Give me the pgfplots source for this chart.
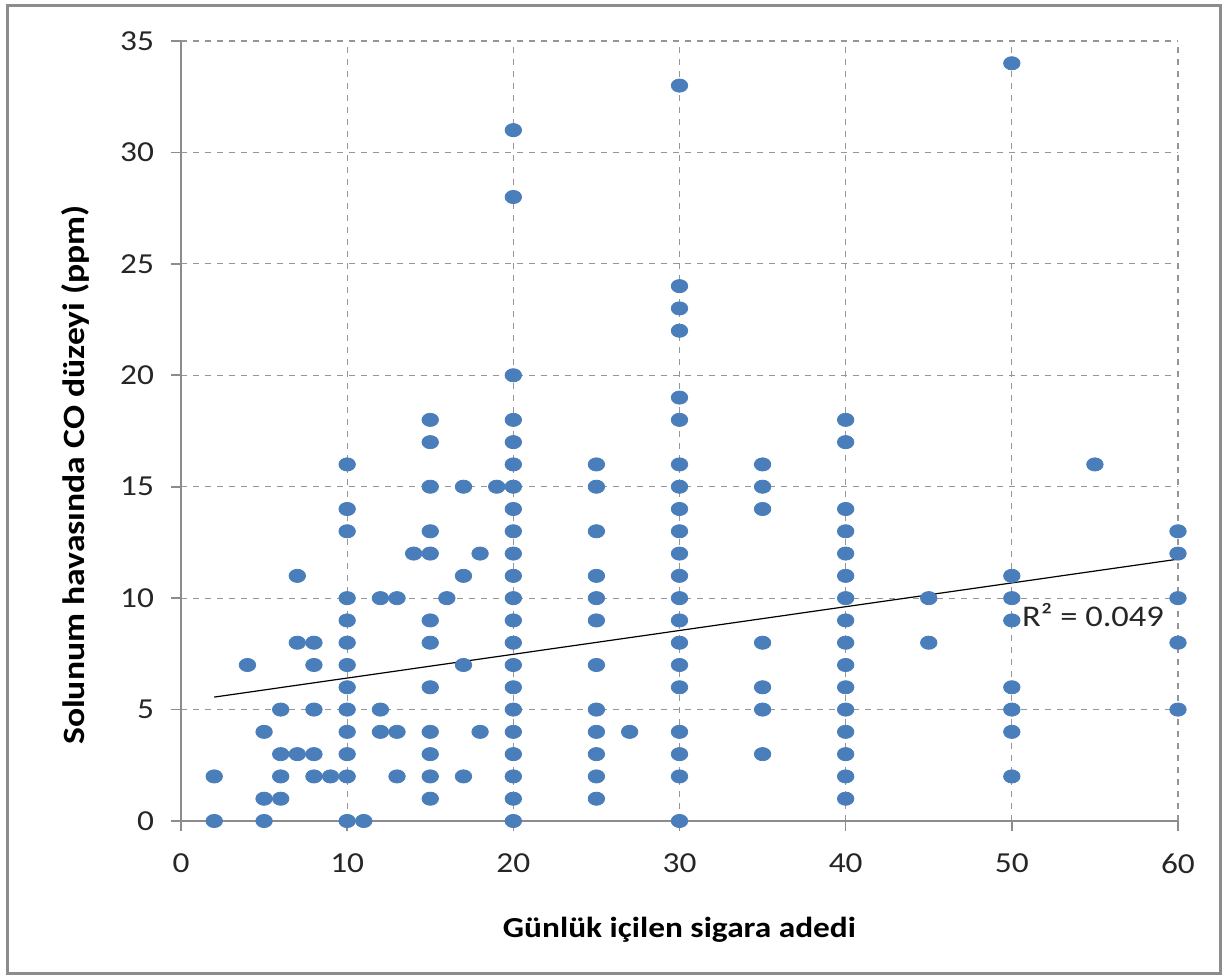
\documentclass[border=0pt]{standalone}
\usepackage{fontspec}
\setmainfont{Carlito}[FakeStretch=1.15]
\usepackage{pgfplots}
\pgfplotsset{compat=1.18}
\definecolor{dotblue}{RGB}{74,126,187}
\definecolor{gridgray}{RGB}{150,150,150}
\definecolor{axgray}{RGB}{140,140,140}
\begin{document}
\begin{tikzpicture}
\useasboundingbox (-90.5pt,-79.5pt) rectangle (523.5pt,410.5pt);
\draw[axgray, line width=1.5pt] (-86.5pt,-76.5pt) rectangle (519.5pt,407.5pt);
\begin{axis}[
  scale only axis,
  width=498.5pt, height=390pt,
  xmin=0, xmax=60, ymin=0, ymax=35,
  xtick={0,10,...,60}, ytick={0,5,...,35},
  axis lines=left,
  axis line style={-, axgray, line width=0.8pt},
  grid=major,
  major grid style={dashed, gridgray, line width=0.6pt},
  tick align=outside,
  major tick length=5pt,
  tick style={axgray, line width=0.8pt},
  /pgf/number format/assume math mode=true,
  ticklabel style={font=\fontsize{14.5}{17}\selectfont, text=black!85},
  xticklabel shift=8pt,
  yticklabel shift=5pt,
  xlabel={Günlük içilen sigara adedi},
  ylabel={Solunum havasında CO düzeyi (ppm)},
  xlabel style={font=\fontsize{14.5}{17}\selectfont\bfseries, at={([yshift=-54.5pt]axis description cs:0.5,0)}, anchor=center},
  ylabel style={font=\fontsize{15.5}{18}\selectfont\bfseries, at={([xshift=-53pt, yshift=-22pt]axis description cs:0,0.5)}, anchor=center, rotate=0},
  clip=false,
]
\addplot[only marks, mark=*, mark size=3.3pt, mark options={xscale=1.25, fill=dotblue, draw=dotblue}] coordinates {
(2,2) (2,0)
(4,7)
(5,4) (5,1) (5,0)
(6,5) (6,3) (6,2) (6,1)
(7,11) (7,8) (7,3)
(8,8) (8,7) (8,5) (8,3) (8,2)
(9,2)
(10,16) (10,14) (10,13) (10,10) (10,9) (10,8) (10,7) (10,6) (10,5) (10,4) (10,3) (10,2) (10,0)
(11,0)
(12,10) (12,5) (12,4)
(13,10) (13,4) (13,2)
(14,12)
(15,18) (15,17) (15,15) (15,13) (15,12) (15,9) (15,8) (15,6) (15,4) (15,3) (15,2) (15,1)
(16,10)
(17,15) (17,11) (17,7) (17,2)
(18,12) (18,4)
(19,15)
(20,31) (20,28) (20,20) (20,18) (20,17) (20,16) (20,15) (20,14) (20,13) (20,12) (20,11) (20,10) (20,9) (20,8) (20,7) (20,6) (20,5) (20,4) (20,3) (20,2) (20,1) (20,0)
(25,16) (25,15) (25,13) (25,11) (25,10) (25,9) (25,7) (25,5) (25,4) (25,3) (25,2) (25,1)
(27,4)
(30,33) (30,24) (30,23) (30,22) (30,19) (30,18) (30,16) (30,15) (30,14) (30,13) (30,12) (30,11) (30,10) (30,9) (30,8) (30,7) (30,6) (30,4) (30,3) (30,2) (30,0)
(35,16) (35,15) (35,14) (35,8) (35,6) (35,5) (35,3)
(40,18) (40,17) (40,14) (40,13) (40,12) (40,11) (40,10) (40,9) (40,8) (40,7) (40,6) (40,5) (40,4) (40,3) (40,2) (40,1)
(45,10) (45,8)
(50,34) (50,11) (50,10) (50,9) (50,6) (50,5) (50,4) (50,2)
(55,16)
(60,13) (60,12) (60,10) (60,8) (60,5)
};
\addplot[black, line width=0.6pt, no marks] coordinates {(2,5.56) (60,11.75)};
\node[anchor=west, font=\fontsize{15}{18}\selectfont, text=black!85, inner sep=0pt] at (axis cs:50.6,9.24) {R² = 0.049};
\end{axis}
\end{tikzpicture}
\end{document}
